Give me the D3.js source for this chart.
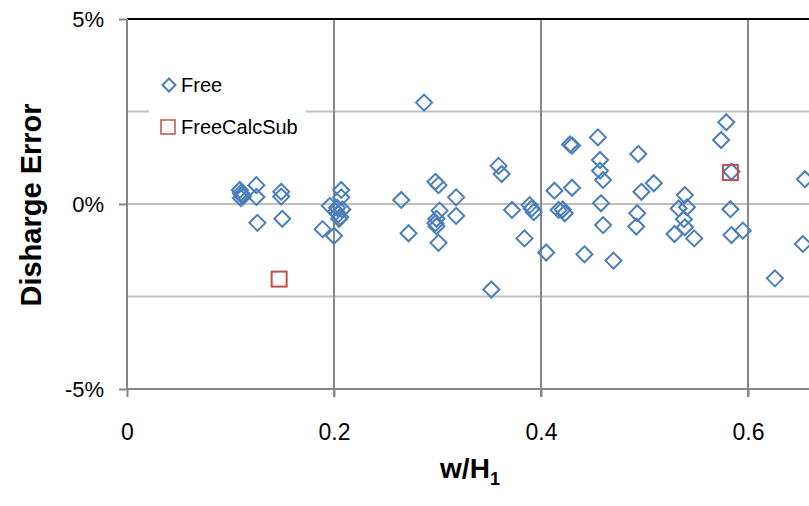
<!DOCTYPE html>
<head>
  <meta charset="utf-8">
  <script src="https://d3js.org/d3.v7.min.js"></script>
  <style>
  body { margin: 0; background: #fff; }
  #chart text { font-family: "Liberation Sans", sans-serif; fill: #000; }
  </style>
</head>

<body>
  <svg id="chart"></svg>
  <script>

    // Free series (w/H1, discharge error in %)
    var freeX = [0.109, 0.110, 0.111, 0.112, 0.110, 0.125, 0.125, 0.126, 0.149, 0.149,
                 0.150, 0.189, 0.196, 0.200, 0.207, 0.207, 0.202, 0.204, 0.206, 0.208,
                 0.205, 0.203, 0.265, 0.272, 0.287, 0.298, 0.301, 0.318, 0.302, 0.299,
                 0.298, 0.299, 0.318, 0.301, 0.359, 0.362, 0.372, 0.352, 0.384, 0.389,
                 0.391, 0.393, 0.405, 0.413, 0.430, 0.428, 0.430, 0.417, 0.421, 0.423,
                 0.442, 0.455, 0.457, 0.457, 0.460, 0.458, 0.460, 0.470, 0.494, 0.497,
                 0.509, 0.493, 0.492, 0.539, 0.533, 0.541, 0.538, 0.539, 0.529, 0.548,
                 0.579, 0.574, 0.584, 0.583, 0.584, 0.595, 0.626, 0.655, 0.653];
    var freeY = [0.38, 0.30, 0.25, 0.20, 0.16, 0.51, 0.19, -0.51, 0.33, 0.20,
                 -0.40, -0.68, -0.05, -0.86, 0.38, 0.18, -0.20, -0.28, -0.35, -0.15,
                 -0.40, -0.10, 0.11, -0.79, 2.74, 0.60, 0.51, 0.18, -0.18, -0.40,
                 -0.52, -0.60, -0.32, -1.05, 1.03, 0.81, -0.16, -2.31, -0.93, -0.03,
                 -0.12, -0.22, -1.31, 0.36, 0.44, 1.61, 1.58, -0.16, -0.15, -0.25,
                 -1.36, 1.80, 1.19, 0.90, 0.65, 0.02, -0.57, -1.53, 1.35, 0.33,
                 0.56, -0.25, -0.61, 0.24, -0.12, -0.09, -0.41, -0.63, -0.81, -0.93,
                 2.21, 1.73, 0.87, -0.14, -0.84, -0.72, -2.01, 0.67, -1.08];

    // FreeCalcSub series
    var subX = [0.147, 0.583];
    var subY = [-2.03, 0.85];

    var xTicks = [0, 0.2, 0.4, 0.6];
    var yTicks = [-5, 0, 5];
    var yGrid = [-5, -2.5, 0, 2.5, 5];

    var width = 809,
        height = 506;

    var x = d3.scaleLinear().domain([0, 0.8]).range([127, 955]);
    var y = d3.scaleLinear().domain([-5, 5]).range([389, 19]);

    var chart = d3.select('#chart')
        .attr('width', width)
        .attr('height', height);

    // horizontal grid
    chart.selectAll('.hgrid')
        .data(yGrid)
      .enter().append('line')
        .attr('x1', x(0)).attr('x2', width)
        .attr('y1', y).attr('y2', y)
        .style('stroke', '#bfbfbf')
        .style('stroke-width', 2);

    // vertical grid
    chart.selectAll('.vgrid')
        .data(xTicks.slice(1))
      .enter().append('line')
        .attr('x1', x).attr('x2', x)
        .attr('y1', y(5)).attr('y2', y(-5) + 8)
        .style('stroke', '#878787')
        .style('stroke-width', 2);

    // top border
    chart.append('line')
        .attr('x1', x(0)).attr('x2', width)
        .attr('y1', y(5)).attr('y2', y(5))
        .style('stroke', '#000')
        .style('stroke-width', 2);

    // bottom axis
    var xAxis = d3.axisBottom(x)
        .tickValues(xTicks)
        .tickSize(8)
        .tickPadding(27)
        .tickFormat(function(d) { return d === 0 ? '0' : d3.format('.1f')(d); });
    var gx = chart.append('g')
        .attr('transform', 'translate(0,' + y(-5) + ')')
        .call(xAxis);
    gx.select('.domain').attr('d', 'M' + x(0) + ',0H' + width)
        .style('stroke', '#878787').style('stroke-width', 2);
    gx.selectAll('.tick line').style('stroke', '#878787').style('stroke-width', 2);
    gx.selectAll('.tick text').style('font-size', '23px').style('font-family', '"Liberation Sans", sans-serif');

    // left axis
    var yAxis = d3.axisLeft(y)
        .tickValues(yTicks)
        .tickSize(8)
        .tickPadding(15)
        .tickFormat(function(d) { return d + '%'; });
    var gy = chart.append('g')
        .attr('transform', 'translate(' + x(0) + ',0)')
        .call(yAxis);
    gy.select('.domain').attr('d', 'M0,' + y(5) + 'V' + y(-5))
        .style('stroke', '#878787').style('stroke-width', 2);
    gy.selectAll('.tick line').style('stroke', '#878787').style('stroke-width', 2);
    gy.selectAll('.tick text').style('font-size', '22px').style('font-family', '"Liberation Sans", sans-serif');

    // markers
    var diamond = function(r) { return 'M0,' + (-r) + 'L' + r + ',0L0,' + r + 'L' + (-r) + ',0Z'; };

    chart.append('g').selectAll('path')
        .data(freeX)
      .enter().append('path')
        .attr('transform', function(d, i) { return 'translate(' + x(d) + ',' + y(freeY[i]) + ')'; })
        .attr('d', diamond(8))
        .style('fill', 'none')
        .style('stroke', '#4a7ebb')
        .style('stroke-width', 2);

    chart.append('g').selectAll('rect')
        .data(subX)
      .enter().append('rect')
        .attr('x', function(d) { return x(d) - 7.5; })
        .attr('y', function(d, i) { return y(subY[i]) - 7.5; })
        .attr('width', 15).attr('height', 15)
        .style('fill', 'none')
        .style('stroke', '#c0504d')
        .style('stroke-width', 2);

    // legend
    var legend = chart.append('g');
    legend.append('rect')
        .attr('x', 149).attr('y', 62).attr('width', 157).attr('height', 88)
        .style('fill', '#fff');
    legend.append('path')
        .attr('transform', 'translate(169,85)')
        .attr('d', diamond(6.5))
        .style('fill', 'none').style('stroke', '#4a7ebb').style('stroke-width', 2);
    legend.append('text')
        .attr('x', 181).attr('y', 85).attr('dy', '.35em')
        .style('font-size', '20px')
        .text('Free');
    legend.append('rect')
        .attr('x', 161).attr('y', 120).attr('width', 14).attr('height', 14)
        .style('fill', 'none').style('stroke', '#c0504d').style('stroke-width', 1.5);
    legend.append('text')
        .attr('x', 181).attr('y', 127).attr('dy', '.35em')
        .style('font-size', '20px')
        .text('FreeCalcSub');

    // axis titles
    chart.append('text')
        .attr('transform', 'translate(41,' + (y(0) + 1) + ') rotate(-90)')
        .attr('text-anchor', 'middle')
        .style('font-size', '29px')
        .style('font-weight', 'bold')
        .text('Disharge Error');

    var xt = chart.append('text')
        .attr('x', 470).attr('y', 478)
        .attr('text-anchor', 'middle')
        .style('font-size', '28px')
        .style('font-weight', 'bold');
    xt.append('tspan').text('w/H');
    xt.append('tspan').attr('dy', 7).style('font-size', '18px').text('1');

  </script>
</body>
